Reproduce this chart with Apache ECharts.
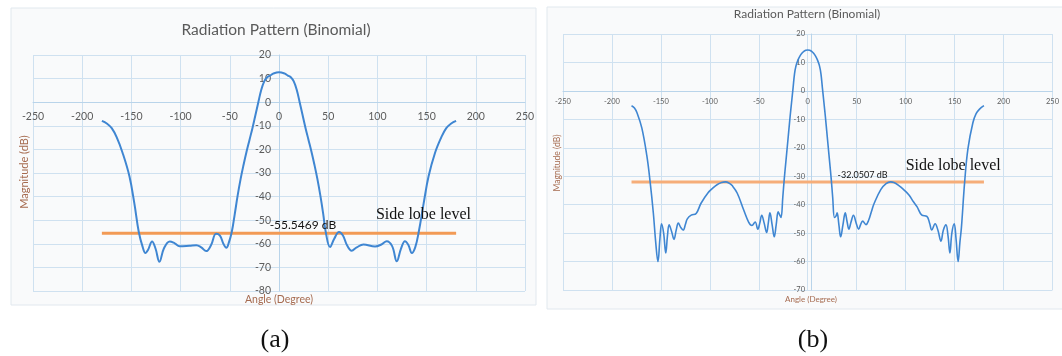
<!DOCTYPE html>
<html>
<head>
<meta charset="utf-8">
<title>Radiation Pattern (Binomial)</title>
<script src="https://cdn.jsdelivr.net/npm/echarts@6/dist/echarts.min.js"></script>
<style>
  html, body { margin: 0; padding: 0; background: #ffffff; }
  #chart { width: 1062px; height: 356px; }
</style>
</head>
<body>
<div id="chart"></div>
<script>
// ---- Panel (a): binomial array pattern ----
const anglesA = [-180, -175, -170, -165, -159, -152, -147, -142.5, -138.5, -135.7, -133, -129, -125.5, -121.5,
  -117, -111, -106, -101, -91, -84, -79, -74, -69, -64, -60, -56.5, -53.5, -51, -48, -45, -42, -39, -36, -33,
  -30, -27, -24, -21, -18, -15, -12, -9, -6, -3, 0, 3, 6, 9, 12, 15, 18, 21, 24, 27, 30, 33, 36, 39, 42, 45,
  47.5, 51.9, 56, 61, 65, 69, 73.9, 79, 85.8, 97.6, 104, 109.5, 115, 119.7, 124, 128, 131.5, 135, 138.5, 142,
  147, 152, 158.6, 165, 170, 175, 180];
const magA = [-7.9, -9, -11, -14.8, -21.4, -31.4, -42.9, -55, -61.4, -63.9, -62.5, -59, -62, -67.6,
  -62, -59, -59.8, -61, -60.8, -60.6, -61.5, -63.1, -60.5, -55.7, -56.5, -60, -61.7, -59.5, -55, -47.5, -39.5, -32.5, -26.5, -21,
  -16, -11, -5.5, 0, 5.3, 8.8, 10.6, 11.3, 12.1, 12.5, 12.7, 12.5, 12.1, 11.3, 10.6, 8.8, 5.3, 0, -5.5, -11, -16, -21, -26.5, -32.5, -39.5, -47.5,
  -55, -61.4, -58, -55, -56.5, -60.5, -62.9, -61.5, -60.3, -61.1, -60.3, -58.9, -61, -67.4, -62, -58.9, -60.5, -63.9, -61.4, -55,
  -42.9, -31.4, -21.4, -14.8, -11, -9, -7.9];
const sllA = -55.5469;

// ---- Panel (b) ----
const anglesB = [-180, -177, -174.5, -169.5, -164.4, -161, -157.7, -155.4, -153, -151, -149.3, -147.2, -145, -143.3,
  -141.6, -139, -136.6, -134.4, -132.2, -129.7, -127.2, -125, -123, -119, -114, -109, -102, -97, -92.3, -88, -84,
  -80, -77.2, -72.1, -65.4, -60.4, -57, -53.7, -51, -49, -47, -44.5, -42, -40.3, -38.6, -36.4, -34.2, -32.2, -30.2,
  -28.8, -27.3, -25.5, -24, -22.5, -21, -19.5, -18, -16.5, -15, -13.5, -12, -10, -8, -6, -4, -2, 0,
  2, 4, 6, 8, 10, 12, 13.5, 15, 16.5, 18, 19.5, 21, 22.5, 24, 25.5, 27.3,
  28.8, 30, 31.8, 33.6, 36, 38.3, 40.2, 42, 44.3, 46.7, 49.5, 52, 54, 56.1, 59.5, 62.2, 65, 67.9, 74.6, 80, 84.7,
  88, 93.1, 98, 103.2, 108, 111.6, 116.6, 121.7, 124.5, 126.7, 130.1, 133, 136.1, 138.5, 141.2, 143.3, 145.2,
  147.2, 149.6, 151.5, 153.6, 155.5, 157, 160.3, 163.7, 168.7, 172, 175.5, 180];
const magB = [-5.2, -6, -7.6, -13, -22.7, -32, -43, -52.8, -60, -52, -46.7, -50, -57, -51,
  -47.1, -49.5, -52.2, -49, -46.5, -48, -48.9, -47, -45, -43.7, -43.1, -39.5, -35.9, -34.2, -32.9, -32.2, -32,
  -32.5, -33.3, -35.9, -41.9, -46.1, -47.3, -46.1, -48.6, -46.5, -43.7, -46.5, -49.8, -46.5, -42.9, -47, -51.3, -47, -42.5,
  -43.5, -44.5, -37.5, -31, -25.5, -20, -14.5, -9, -4, 1, 6, 8.8, 10.8, 12.2, 13.2, 13.9, 14.3, 14.4,
  14.3, 13.9, 13.2, 12.2, 10.8, 8.8, 6, 1, -4, -9, -14.5, -20, -25.5, -31, -37.5, -44.5,
  -44, -42.9, -47, -51.3, -47, -42.9, -46, -48.6, -46, -43.7, -46.5, -48.6, -47, -45.8, -47, -45.5, -42.5, -39.5, -34.7, -32.6, -32,
  -32.2, -33.3, -34.7, -36.5, -39, -40.7, -43.7, -44.1, -46.5, -48.9, -46.7, -49, -52.8, -49, -47.1, -51, -57,
  -50, -46.7, -52, -60, -53, -48, -32, -20.2, -11.2, -8, -6.4, -5.2];
const sllB = -32.0507;

const sllSpan = [-180, 180];
const xTicks = { min: -250, max: 250, interval: 50 };
const yTicksA = { min: -80, max: 20, interval: 10 };
const yTicksB = { min: -70, max: 20, interval: 10 };

const titleText = 'Radiation Pattern (Binomial)';
const xName = 'Angle (Degree)';
const yName = 'Magnitude (dB)';

const pairs = (xs, ys) => xs.map((x, i) => [x, ys[i]]);

const GRID_LINE = '#cfe1f0';
const AXIS_LINE = '#b9d4ea';
const TICK_TEXT = '#5c5c5c';
const NAME_TEXT = '#a66b50';
const SANS = 'Lato, "Open Sans", sans-serif';
const SERIF = '"Liberation Serif", "DejaVu Serif", serif';

const grids = [
  { left: 33, top: 55, width: 492, height: 236 },
  { left: 563, top: 34, width: 496, height: 256 }
];

// The two axes cross at the origin: shift each axis from the grid edge to where the other axis is zero.
function crossOffset(lengthPx, range) {
  return -lengthPx * (0 - range.min) / (range.max - range.min);
}

function xAxisFor(gridIndex, yRange, fontSize, margin) {
  return {
    type: 'value', gridIndex, position: 'bottom',
    offset: crossOffset(grids[gridIndex].height, yRange),
    min: xTicks.min, max: xTicks.max, interval: xTicks.interval,
    axisLine: { show: true, onZero: false, lineStyle: { color: AXIS_LINE, width: 1 } },
    axisTick: { show: false },
    axisLabel: { color: TICK_TEXT, fontSize, fontFamily: SANS, margin, hideOverlap: false },
    splitLine: { show: true, lineStyle: { color: GRID_LINE, width: 1 } }
  };
}
function yAxisFor(gridIndex, ticks, fontSize, margin) {
  return {
    type: 'value', gridIndex, position: 'left',
    offset: crossOffset(grids[gridIndex].width, xTicks),
    min: ticks.min, max: ticks.max, interval: ticks.interval,
    axisLine: { show: true, onZero: false, lineStyle: { color: AXIS_LINE, width: 1 } },
    axisTick: { show: false },
    axisLabel: { color: TICK_TEXT, fontSize, fontFamily: SANS, margin, hideOverlap: false },
    splitLine: { show: true, lineStyle: { color: GRID_LINE, width: 1 } }
  };
}

function sllSeries(idx, value, color, valueFont, valueX, noteX, valueLift, noteLift) {
  return {
    type: 'line', xAxisIndex: idx, yAxisIndex: idx,
    data: sllSpan.map(x => [x, value]),
    showSymbol: false, silent: true, z: 1,
    lineStyle: { color, width: 3 },
    markPoint: {
      symbol: 'rect', symbolSize: 1,
      itemStyle: { color: 'rgba(0,0,0,0)' },
      data: [
        {
          coord: [valueX, value],
          label: {
            show: true, position: 'right', distance: 0, offset: [0, -valueLift],
            formatter: value.toFixed(4) + ' dB',
            color: '#111111', fontSize: valueFont, fontFamily: SANS
          }
        },
        {
          coord: [noteX, value],
          label: {
            show: true, position: 'right', distance: 0, offset: [0, -noteLift],
            formatter: 'Side lobe level',
            color: '#111111', fontSize: 16, fontFamily: SERIF
          }
        }
      ]
    }
  };
}

const chart = echarts.init(document.getElementById('chart'), null, { renderer: 'canvas' });

chart.setOption({
  backgroundColor: '#ffffff',
  animation: false,
  graphic: [
    { type: 'rect', z: -10, shape: { x: 11, y: 8, width: 525, height: 297 },
      style: { fill: '#f9fafb', stroke: '#e1e8ee', lineWidth: 1 } },
    { type: 'rect', z: -10, shape: { x: 547, y: 7, width: 520, height: 302 },
      style: { fill: '#f9fafb', stroke: '#e1e8ee', lineWidth: 1 } },
    { type: 'text', x: 276, y: 30, style: { text: titleText, font: '15.5px ' + SANS, fill: '#5a5a5a', align: 'center', verticalAlign: 'middle' } },
    { type: 'text', x: 807, y: 14, style: { text: titleText, font: '12px ' + SANS, fill: '#5a5a5a', align: 'center', verticalAlign: 'middle' } },
    { type: 'text', x: 279, y: 300, style: { text: xName, font: '10.5px ' + SANS, fill: NAME_TEXT, align: 'center', verticalAlign: 'middle' } },
    { type: 'text', x: 811, y: 299, style: { text: xName, font: '8px ' + SANS, fill: NAME_TEXT, align: 'center', verticalAlign: 'middle' } },
    { type: 'text', x: 24, y: 172, rotation: Math.PI / 2, style: { text: yName, font: '11px ' + SANS, fill: NAME_TEXT, align: 'center', verticalAlign: 'middle' } },
    { type: 'text', x: 557, y: 163, rotation: Math.PI / 2, style: { text: yName, font: '8.5px ' + SANS, fill: NAME_TEXT, align: 'center', verticalAlign: 'middle' } },
    { type: 'text', x: 275, y: 340, style: { text: '(a)', font: '26px ' + SERIF, fill: '#111111', align: 'center', verticalAlign: 'middle' } },
    { type: 'text', x: 813, y: 340, style: { text: '(b)', font: '26px ' + SERIF, fill: '#111111', align: 'center', verticalAlign: 'middle' } }
  ],
  grid: grids,
  xAxis: [xAxisFor(0, yTicksA, 10.5, 9), xAxisFor(1, yTicksB, 7.5, 7)],
  yAxis: [yAxisFor(0, yTicksA, 10.5, 8), yAxisFor(1, yTicksB, 7.5, 6)],
  series: [
    sllSeries(0, sllA, '#f29a55', 12, -10, 98, 8, 18),
    sllSeries(1, sllB, '#f6ad79', 9, 30, 99.5, 7, 16),
    {
      type: 'line', xAxisIndex: 0, yAxisIndex: 0, z: 3,
      data: pairs(anglesA, magA),
      showSymbol: false, smooth: 0.4,
      lineStyle: { color: '#3f86d2', width: 2 }
    },
    {
      type: 'line', xAxisIndex: 1, yAxisIndex: 1, z: 3,
      data: pairs(anglesB, magB),
      showSymbol: false, smooth: 0.4,
      lineStyle: { color: '#3f86d2', width: 1.6 }
    }
  ]
});
</script>
</body>
</html>
